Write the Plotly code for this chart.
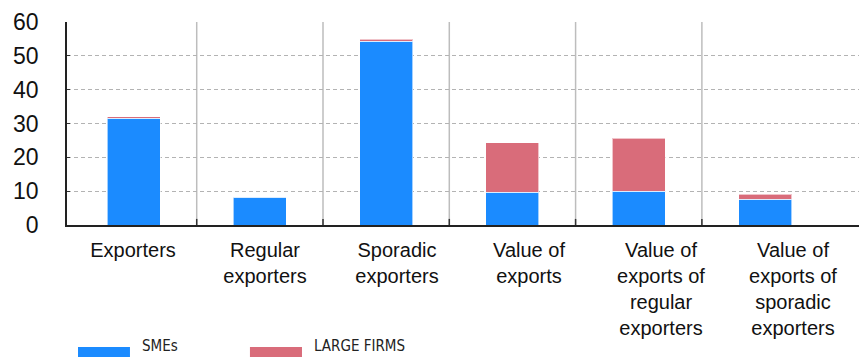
import plotly.graph_objects as go

categories = ["Exporters", "Regular<br>exporters", "Sporadic<br>exporters", "Value of<br>exports",
              "Value of<br>exports of<br>regular<br>exporters", "Value of<br>exports of<br>sporadic<br>exporters"]
smes = [31.5, 8.2, 54.3, 9.75, 10.0, 7.6]
large_firms = [0.5, 0.2, 0.6, 14.6, 15.6, 1.45]
series_names = ["SMEs", "LARGE FIRMS"]
y_ticks = [0, 10, 20, 30, 40, 50, 60]

BLUE = "#1b8bff"
RED = "#d96c7a"

fig = go.Figure()
fig.add_trace(go.Bar(x=categories, y=smes, name=series_names[0], marker_color=BLUE,
                     marker_line=dict(color="rgba(255,255,255,0.6)", width=1), width=0.42,
                     showlegend=False))
fig.add_trace(go.Bar(x=categories, y=large_firms, name=series_names[1], marker_color=RED,
                     marker_line=dict(color="rgba(255,255,255,0.6)", width=1), width=0.42,
                     showlegend=False))
# label axis carrier
fig.add_trace(go.Scatter(x=categories, y=[None] * len(categories), xaxis="x2", mode="markers",
                         showlegend=False, hoverinfo="skip"))

shapes = []
for i in range(len(categories) - 1):
    xb = i + 0.5
    shapes.append(dict(type="line", xref="x", yref="y", x0=xb, x1=xb, y0=0, y1=60,
                       line=dict(color="#bdbdbd", width=1.5), layer="below"))
    shapes.append(dict(type="line", xref="x", yref="y", x0=xb, x1=xb, y0=0, y1=1.8,
                       line=dict(color="#333333", width=1.5)))

# legend swatches
leg = [(0.0139, 0.0795, BLUE, 0.0922, series_names[0]), (0.231, 0.2967, RED, 0.3093, series_names[1])]
annotations = []
for x0, x1, col, tx, txt in leg:
    shapes.append(dict(type="rect", xref="paper", yref="paper", x0=x0, x1=x1, y0=-0.650, y1=-0.601,
                       fillcolor=col, line=dict(width=0)))
    annotations.append(dict(xref="paper", yref="paper", x=tx, y=-0.598, xanchor="left", yanchor="middle",
                            text=txt, showarrow=False,
                            font=dict(family="Liberation Sans Narrow, DejaVu Sans Condensed, Arial Narrow",
                                      size=15, color="#222222")))

fig.update_layout(
    barmode="stack",
    width=859, height=358,
    margin=dict(l=67, r=0, t=22, b=133),
    paper_bgcolor="white", plot_bgcolor="white",
    font=dict(family="Liberation Sans, Arial, Helvetica", color="#111111"),
    shapes=shapes, annotations=annotations,
    xaxis=dict(type="category", categoryorder="array", categoryarray=categories,
               range=[-0.527, 5.744], showticklabels=False, showgrid=False,
               showline=True, linecolor="#222222", linewidth=1.5, ticks="", zeroline=False),
    xaxis2=dict(type="category", categoryorder="array", categoryarray=categories,
                overlaying="x", anchor="y", side="bottom", range=[-0.5, 5.5],
                showgrid=False, showline=False, ticks="", zeroline=False,
                tickfont=dict(size=20, color="#111111"), ticklabelstandoff=11),
    yaxis=dict(range=[0, 60], tickvals=y_ticks, showgrid=True, gridcolor="#b3b3b3", griddash="4px,3px",
               gridwidth=1, showline=True, linecolor="#222222", linewidth=1.5,
               ticks="inside", ticklen=3, tickcolor="#333333", tickwidth=1,
               zeroline=False, tickfont=dict(size=23, color="#111111"), ticklabelstandoff=22),
)

fig.write_html("out.html")
